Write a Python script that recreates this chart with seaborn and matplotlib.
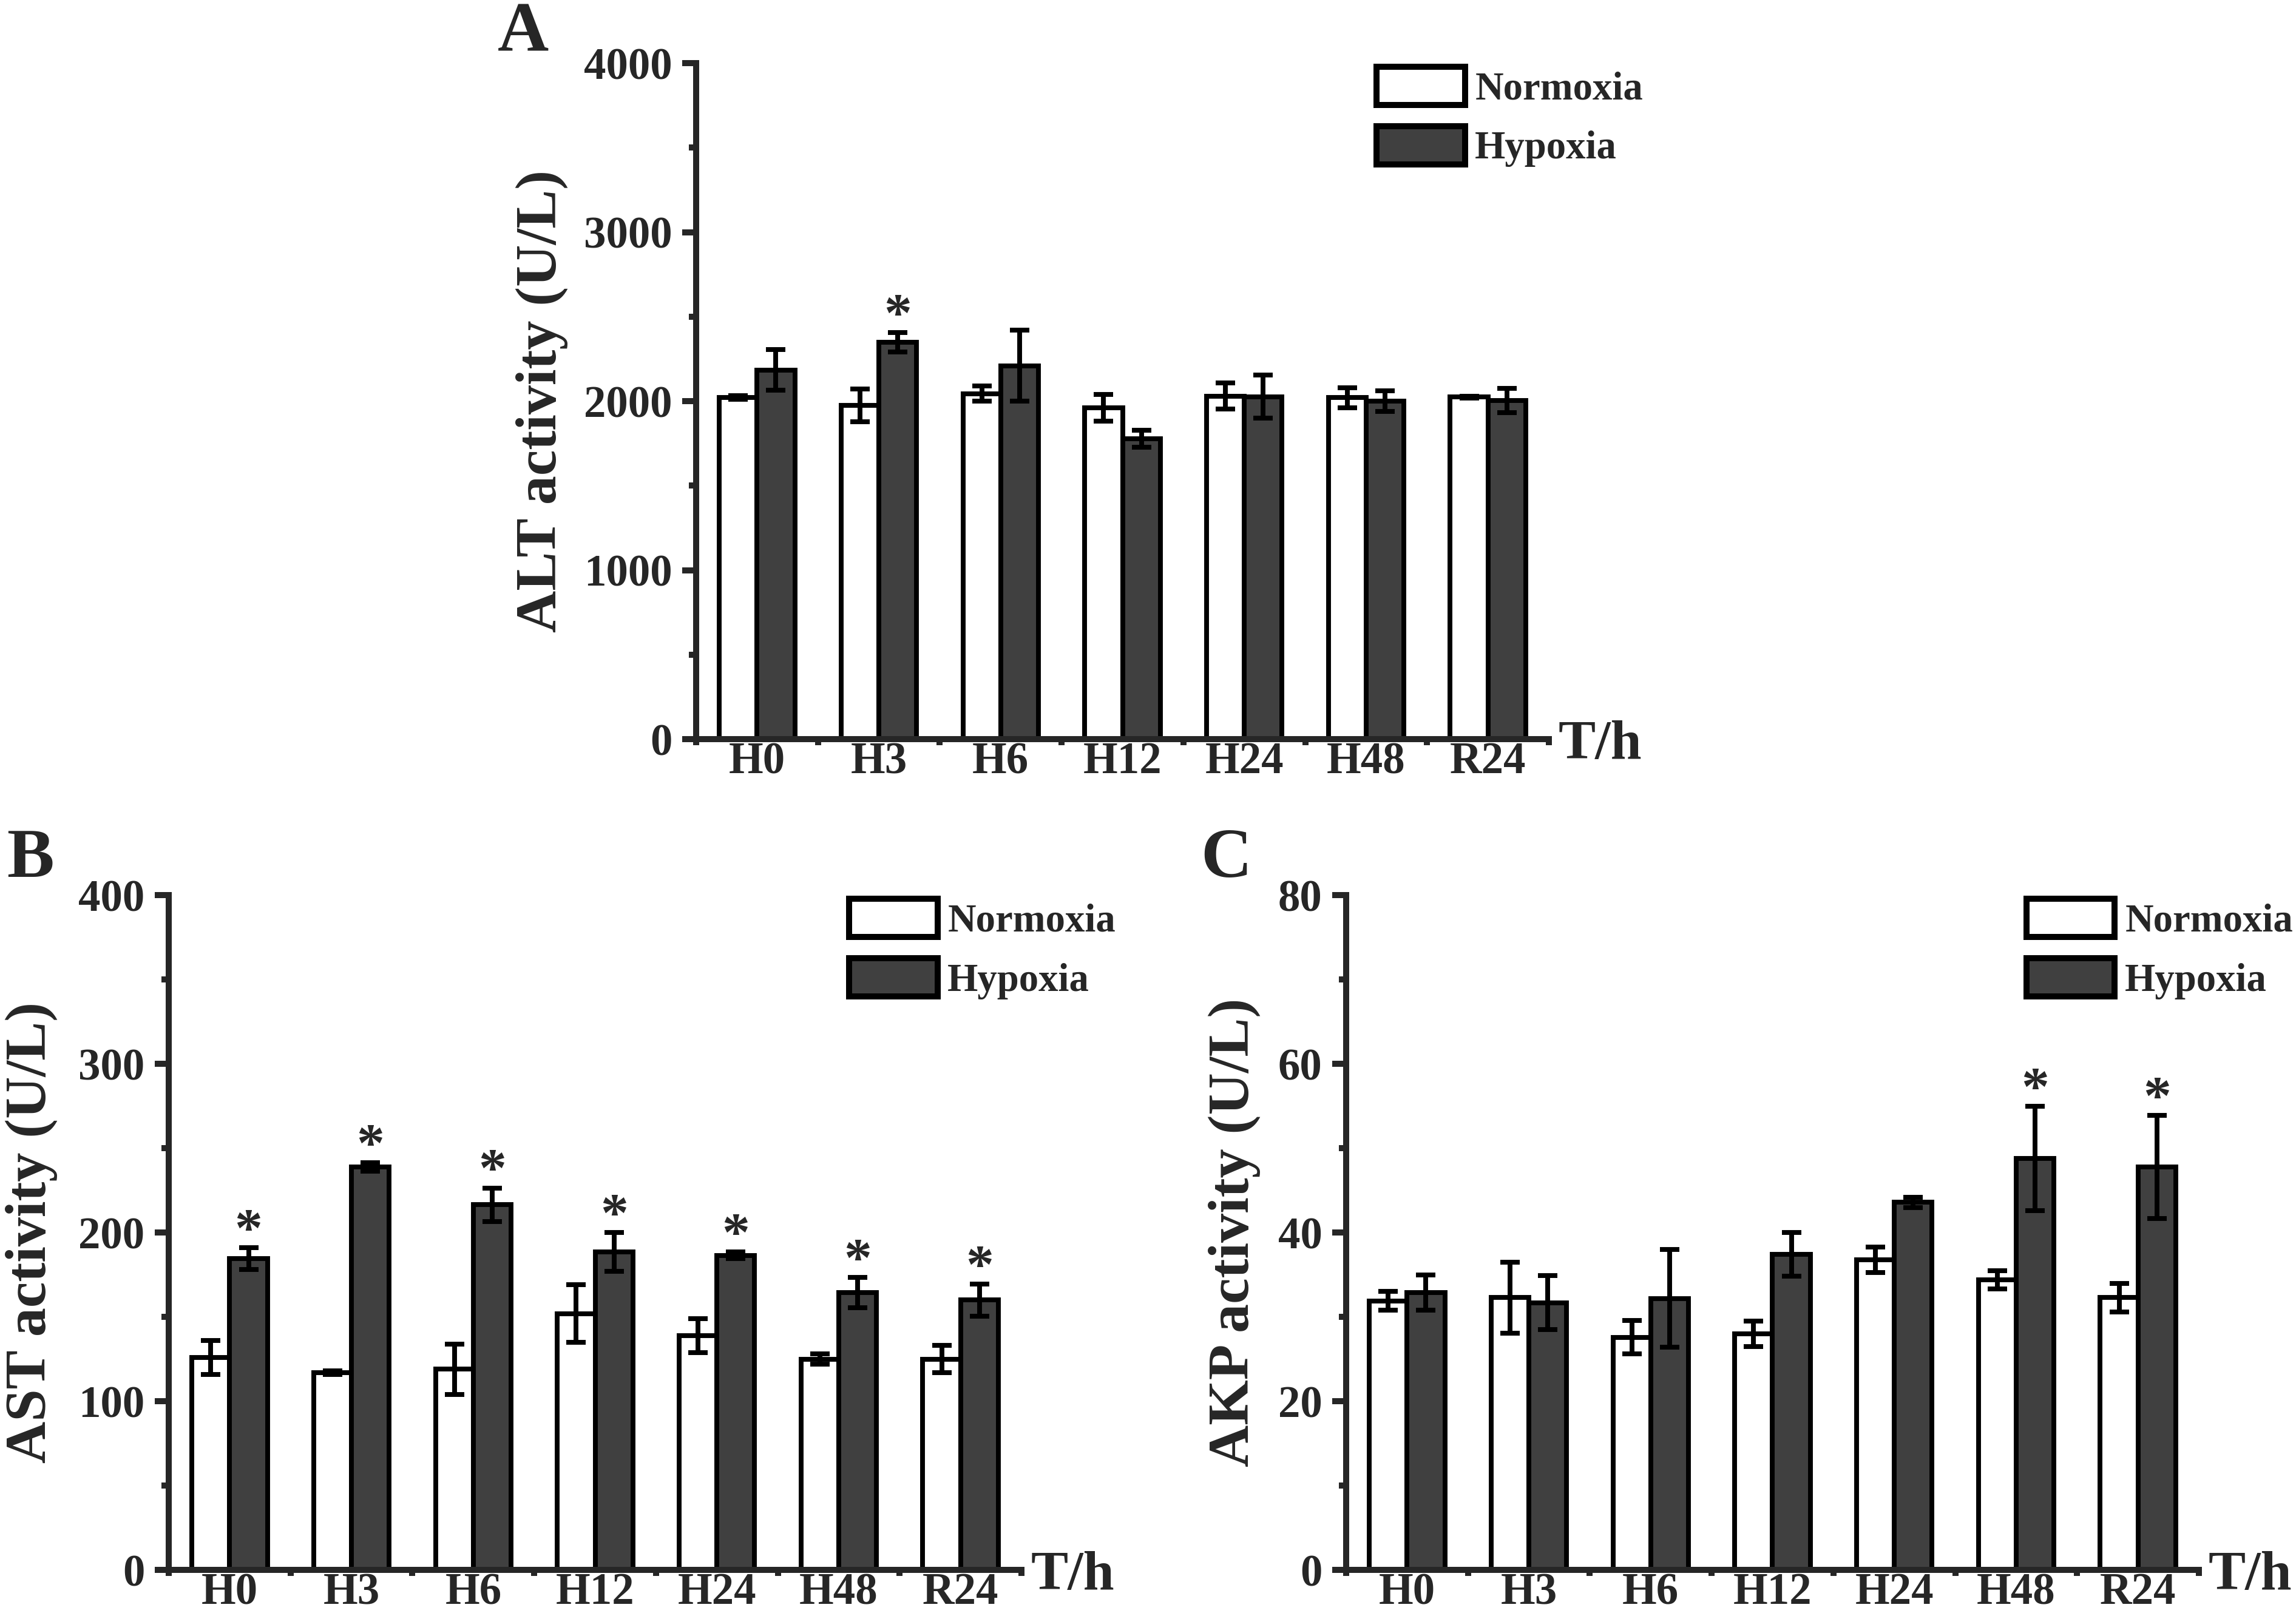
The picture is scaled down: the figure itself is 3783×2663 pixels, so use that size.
"""Serum ALT / AST / AKP activity under normoxia and hypoxia (panels A-C)."""

import numpy as np
import pandas as pd
import matplotlib
matplotlib.use("Agg")
import matplotlib.pyplot as plt
from matplotlib.ticker import MultipleLocator
import seaborn as sns

groups = ["H0", "H3", "H6", "H12", "H24", "H48", "R24"]
conditions = ["Normoxia", "Hypoxia"]

# panel A - ALT
alt_normoxia = [2021, 1976, 2045, 1961, 2030, 2021, 2024]
alt_normoxia_sd = [10, 97, 45, 80, 78, 60, 5]
alt_hypoxia = [2185, 2349, 2209, 1779, 2027, 2000, 2003]
alt_hypoxia_sd = [120, 58, 210, 50, 127, 60, 72]
alt_sig = [False, True, False, False, False, False, False]

# panel B - AST
ast_normoxia = [126, 117, 119, 152, 139, 125, 125]
ast_normoxia_sd = [10, 1, 15, 17, 10, 3, 8]
ast_hypoxia = [184.5, 239, 216.5, 188.5, 186.5, 164.5, 160]
ast_hypoxia_sd = [6.5, 2.5, 10, 11.5, 2, 9, 9.5]
ast_sig = [True, True, True, True, True, True, True]

# panel C - AKP
akp_normoxia = [31.9, 32.3, 27.6, 28.0, 36.8, 34.4, 32.3]
akp_normoxia_sd = [1.1, 4.2, 2.0, 1.5, 1.5, 1.1, 1.7]
akp_hypoxia = [32.9, 31.7, 32.2, 37.4, 43.6, 48.8, 47.8]
akp_hypoxia_sd = [2.1, 3.2, 5.8, 2.6, 0.6, 6.2, 6.1]
akp_sig = [False, False, False, False, False, True, True]

sns.set_style("ticks")
plt.rcParams["font.family"] = ["Liberation Serif", "DejaVu Serif"]
plt.rcParams["font.weight"] = "bold"
plt.rcParams["axes.labelweight"] = "bold"

BAR_COLORS = {"Normoxia": "white", "Hypoxia": "#404040"}
LW = 2.4


def draw_panel(ax, normoxia, normoxia_sd, hypoxia, hypoxia_sd, sig,
               ylabel, ymax, step, label_x):
    df = pd.DataFrame({
        "group": groups * 2,
        "condition": ["Normoxia"] * len(groups) + ["Hypoxia"] * len(groups),
        "value": list(normoxia) + list(hypoxia),
    })
    sns.barplot(
        data=df, x="group", y="value", hue="condition", order=groups,
        hue_order=conditions, palette=BAR_COLORS, saturation=1,
        edgecolor="black", linewidth=1.9, width=0.62, errorbar=None, ax=ax,
    )

    # error bars and significance marks placed on the drawn bars
    for container, sd in zip(ax.containers, [normoxia_sd, hypoxia_sd]):
        xs = [b.get_x() + b.get_width() / 2 for b in container]
        hs = [b.get_height() for b in container]
        ax.errorbar(xs, hs, yerr=sd, fmt="none", ecolor="black",
                    elinewidth=1.9, capsize=3.8, capthick=1.9, zorder=4)
    hyp_bars = ax.containers[1]
    for bar, sd, s in zip(hyp_bars, hypoxia_sd, sig):
        if s:
            ax.annotate("*", xy=(bar.get_x() + bar.get_width() / 2,
                                 bar.get_height() + sd),
                        xytext=(0, 0.5), textcoords="offset points",
                        ha="center", va="baseline", fontsize=22,
                        fontweight="bold")

    ax.set_xlim(-0.5, len(groups) - 0.5)
    ax.set_ylim(0, ymax)
    ax.set_yticks(np.arange(0, ymax + step / 2, step))
    ax.yaxis.set_minor_locator(MultipleLocator(step / 2))
    ax.set_xticks(range(len(groups)))
    ax.set_xticklabels(groups)
    ax.set_xticks(np.arange(-0.5, len(groups), 1), minor=True)

    ax.tick_params(axis="y", which="major", direction="out", length=5.5,
                   width=LW, labelsize=17.5, pad=4)
    ax.tick_params(axis="y", which="minor", direction="out", length=3,
                   width=LW)
    ax.tick_params(axis="x", which="major", length=0, labelsize=17.5, pad=1)
    ax.tick_params(axis="x", which="minor", direction="out", length=2.5,
                   width=LW)
    for lab in ax.get_xticklabels() + ax.get_yticklabels():
        lab.set_fontweight("bold")

    sns.despine(ax=ax)
    for side in ["left", "bottom"]:
        ax.spines[side].set_linewidth(LW)

    ax.set_xlabel("")
    ax.set_ylabel(ylabel, fontsize=23, fontweight="bold")
    ax.yaxis.set_label_coords(label_x, 0.5)
    ax.text(1.011, -0.029, "T/h", transform=ax.transAxes, ha="left",
            va="baseline", fontsize=22, fontweight="bold")

    handles, labels = ax.get_legend_handles_labels()
    for h in handles:
        h.set_linewidth(LW)
    ax.legend(handles, labels, loc="upper left", bbox_to_anchor=(0.798, 0.995),
              frameon=False, fontsize=15.5, handlelength=2.25,
              handleheight=1.12, labelspacing=0.48, handletextpad=0.26,
              borderpad=0, borderaxespad=0)


fig = plt.figure(figsize=(3783 / 300, 2663 / 300), dpi=300)
ax_a = fig.add_axes([0.3032, 0.5426, 0.3714, 0.4183])
ax_b = fig.add_axes([0.0735, 0.0285, 0.3714, 0.4175])
ax_c = fig.add_axes([0.5863, 0.0285, 0.3714, 0.4175])

draw_panel(ax_a, alt_normoxia, alt_normoxia_sd, alt_hypoxia, alt_hypoxia_sd,
           alt_sig, "ALT activity (U/L)", 4000, 1000, -0.15)
draw_panel(ax_b, ast_normoxia, ast_normoxia_sd, ast_hypoxia, ast_hypoxia_sd,
           ast_sig, "AST activity (U/L)", 400, 100, -0.13)
draw_panel(ax_c, akp_normoxia, akp_normoxia_sd, akp_hypoxia, akp_hypoxia_sd,
           akp_sig, "AKP activity (U/L)", 80, 20, -0.10)

fig.text(0.2168, 0.9685, "A", fontsize=28, fontweight="bold", va="baseline")
fig.text(0.003, 0.4574, "B", fontsize=28, fontweight="bold", va="baseline")
fig.text(0.5229, 0.4574, "C", fontsize=28, fontweight="bold", va="baseline")

fig.savefig("out.png", dpi=300)
